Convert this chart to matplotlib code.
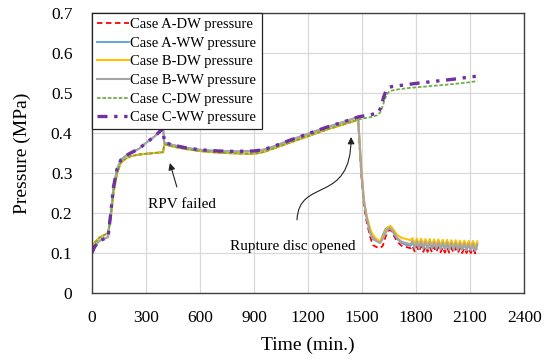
import matplotlib
matplotlib.use('Agg')
import matplotlib.pyplot as plt
from matplotlib.path import Path
from matplotlib.patches import FancyArrowPatch

plt.rcParams['font.family'] = ['Liberation Serif', 'DejaVu Serif']

# --- data (time in min, pressure in MPa) ---
# common history before the rupture disc opens
t_pre = [0, 15, 40, 90, 105, 120, 140, 160, 185, 215, 260, 300, 350, 396, 402,
         450, 520, 600, 700, 800, 900, 950, 1000, 1100, 1200, 1300, 1400, 1478]
dw_pre = [0.100, 0.125, 0.138, 0.150, 0.190, 0.250, 0.300, 0.325, 0.335, 0.342,
          0.346, 0.348, 0.350, 0.352, 0.372, 0.366, 0.360, 0.355, 0.351, 0.349,
          0.348, 0.352, 0.360, 0.376, 0.392, 0.408, 0.422, 0.433]
ww_pre = [0.100, 0.115, 0.130, 0.140, 0.200, 0.265, 0.310, 0.332, 0.342, 0.350,
          0.360, 0.375, 0.392, 0.412, 0.376, 0.370, 0.363, 0.358, 0.355, 0.354,
          0.355, 0.358, 0.365, 0.382, 0.398, 0.414, 0.428, 0.440]

# case A / B: depressurisation after the disc opens
t_drop = [1482, 1495, 1510, 1525, 1545, 1560, 1580, 1600, 1615, 1630, 1645,
          1658, 1675, 1695, 1720, 1745, 1770]
a_dw_drop = [0.40, 0.30, 0.22, 0.18, 0.14, 0.12, 0.115, 0.112, 0.118, 0.140,
             0.155, 0.158, 0.145, 0.128, 0.118, 0.115, 0.112]
a_ww_drop = [0.41, 0.31, 0.23, 0.19, 0.15, 0.135, 0.130, 0.128, 0.145, 0.160,
             0.165, 0.160, 0.150, 0.135, 0.125, 0.120, 0.118]
b_dw_drop = [0.41, 0.32, 0.235, 0.195, 0.16, 0.145, 0.135, 0.130, 0.140, 0.155,
             0.165, 0.168, 0.158, 0.145, 0.138, 0.135, 0.132]
b_ww_drop = [0.41, 0.31, 0.23, 0.19, 0.15, 0.138, 0.130, 0.125, 0.135, 0.150,
             0.160, 0.162, 0.152, 0.138, 0.128, 0.125, 0.122]

# oscillating tail
t_osc = [1780, 1792, 1804, 1816, 1828, 1840, 1852, 1864, 1876, 1888, 1900,
         1912, 1924, 1936, 1948, 1960, 1972, 1984, 1996, 2008, 2020, 2032,
         2044, 2056, 2068, 2080, 2092, 2104, 2116, 2128, 2140]
a_dw_osc = [0.118, 0.104, 0.117, 0.104, 0.117, 0.103, 0.116, 0.103, 0.116, 0.102,
            0.115, 0.102, 0.115, 0.102, 0.114, 0.101, 0.114, 0.101, 0.113, 0.101,
            0.113, 0.100, 0.112, 0.100, 0.112, 0.100, 0.111, 0.100, 0.111, 0.099, 0.111]
a_ww_osc = [0.128, 0.112, 0.127, 0.111, 0.127, 0.111, 0.126, 0.110, 0.126, 0.110,
            0.125, 0.110, 0.125, 0.109, 0.124, 0.109, 0.124, 0.108, 0.123, 0.108,
            0.123, 0.107, 0.122, 0.107, 0.122, 0.106, 0.121, 0.106, 0.121, 0.105, 0.120]
b_dw_osc = [0.137, 0.121, 0.136, 0.121, 0.136, 0.120, 0.135, 0.120, 0.135, 0.119,
            0.134, 0.119, 0.134, 0.118, 0.133, 0.118, 0.133, 0.118, 0.132, 0.117,
            0.132, 0.117, 0.131, 0.116, 0.131, 0.116, 0.130, 0.116, 0.130, 0.115, 0.129]
b_ww_osc = [0.130, 0.113, 0.129, 0.113, 0.129, 0.112, 0.128, 0.112, 0.128, 0.111,
            0.127, 0.111, 0.127, 0.110, 0.126, 0.110, 0.126, 0.109, 0.125, 0.109,
            0.125, 0.108, 0.124, 0.108, 0.124, 0.107, 0.123, 0.107, 0.123, 0.106, 0.122]

# case C: disc stays closed, pressure keeps rising
t_c = [1500, 1530, 1560, 1590, 1605, 1620, 1635, 1650, 1665, 1700, 1750, 1800,
       1900, 2000, 2100, 2140]
c_dw_post = [0.436, 0.438, 0.441, 0.445, 0.455, 0.475, 0.495, 0.503, 0.506,
             0.509, 0.512, 0.514, 0.518, 0.522, 0.527, 0.530]
c_ww_post = [0.442, 0.444, 0.447, 0.450, 0.465, 0.490, 0.508, 0.514, 0.516,
             0.518, 0.521, 0.524, 0.529, 0.534, 0.540, 0.542]

labels = ['Case A-DW pressure', 'Case A-WW pressure', 'Case B-DW pressure',
          'Case B-WW pressure', 'Case C-DW pressure', 'Case C-WW pressure']

fig = plt.figure(figsize=(5.5, 3.6), dpi=100)
ax = fig.add_axes([0.167, 0.186, 0.786, 0.778])

t_ab = t_pre + t_drop + t_osc
t_cc = t_pre + t_c

ax.plot(t_ab, dw_pre + a_dw_drop + a_dw_osc, color='#FF0000', lw=1.3,
        dashes=(3, 2), label=labels[0])
ax.plot(t_ab, ww_pre + a_ww_drop + a_ww_osc, color='#5B9BD5', lw=1.3,
        label=labels[1])
ax.plot(t_ab, dw_pre + b_dw_drop + b_dw_osc, color='#FFC000', lw=1.5,
        label=labels[2])
ax.plot(t_ab, ww_pre + b_ww_drop + b_ww_osc, color='#A5A5A5', lw=1.5,
        label=labels[3])
ax.plot(t_cc, dw_pre + c_dw_post, color='#70AD47', lw=1.3,
        dashes=(2, 1), label=labels[4])
ax.plot(t_cc, ww_pre + c_ww_post, color='#7030A0', lw=2.4,
        dashes=(3, 2, 1, 2, 1, 2), label=labels[5])

ax.set_xlim(0, 2400)
ax.set_ylim(0, 0.7)
ax.set_xticks(range(0, 2401, 300))
ax.set_yticks([0, 0.1, 0.2, 0.3, 0.4, 0.5, 0.6, 0.7])
ax.set_yticklabels(['0', '0.1', '0.2', '0.3', '0.4', '0.5', '0.6', '0.7'])
ax.tick_params(length=0, labelsize=12.5)
ax.tick_params(axis='y', pad=14)
ax.tick_params(axis='x', pad=12)
ax.grid(True, color='#D9D9D9', lw=0.9)
ax.set_axisbelow(True)
for s in ax.spines.values():
    s.set_color('#404040')
    s.set_linewidth(1.0)

ax.set_xlabel('Time (min.)', fontsize=14, labelpad=8)
ax.set_ylabel('Pressure (MPa)', fontsize=14, labelpad=14)

leg = ax.legend(loc='upper left', bbox_to_anchor=(0, 1.0), borderaxespad=0,
                fontsize=10.5, handlelength=2.2, handletextpad=0.1,
                labelspacing=0.37, borderpad=0.35, fancybox=False,
                framealpha=1)
leg.get_frame().set_edgecolor('#222222')
leg.get_frame().set_linewidth(0.9)

# annotations
ax.annotate('RPV failed', xy=(433, 0.325), xytext=(500, 0.222),
            ha='center', va='center', fontsize=11,
            arrowprops=dict(arrowstyle='-|>', color='#222222', lw=0.8,
                            shrinkA=6, shrinkB=0, mutation_scale=10))
ax.text(1117, 0.1175, 'Rupture disc opened', ha='center', va='center',
        fontsize=11)
curve = Path([(1139, 0.183), (1150, 0.29), (1440, 0.22), (1439, 0.39)],
             [Path.MOVETO, Path.CURVE4, Path.CURVE4, Path.CURVE4])
ax.add_patch(FancyArrowPatch(path=curve, arrowstyle='-|>', color='#222222',
                             lw=0.8, mutation_scale=10))

fig.savefig('out.png', dpi=100)
